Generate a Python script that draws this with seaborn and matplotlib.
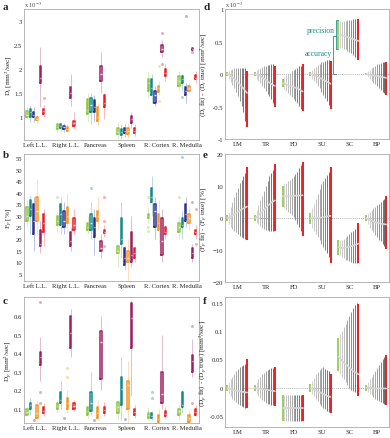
import numpy as np
import pandas as pd
import matplotlib
matplotlib.use("Agg")
import matplotlib.pyplot as plt
import seaborn as sns

organs = ["Left L.L.", "Right L.L.", "Pancreas", "Spleen", "R. Cortex", "R. Medulla"]
methods = ["green", "teal", "navy", "orange", "magenta", "red"]
method_colors = ["#8dc63f", "#15898a", "#2e3192", "#f7941d", "#9e1f63", "#ed1c24"]
fits = ["LM", "TR", "FD", "SU", "SC", "BP"]

# box summaries (whisker low, q1, median, q3, whisker high); rows = methods, cols = organs
dt_box = [
    [(0.97, 1.0, 1.05, 1.12, 1.2), (0.7, 0.76, 0.8, 0.85, 0.9), (0.9, 1.07, 1.15, 1.38, 1.5), (0.55, 0.65, 0.7, 0.78, 0.9), (1.4, 1.55, 1.7, 1.8, 1.95), (1.55, 1.65, 1.75, 1.85, 1.95)],
    [(0.9, 1.0, 1.1, 1.17, 1.25), (0.72, 0.78, 0.82, 0.86, 0.9), (0.85, 1.1, 1.25, 1.4, 1.5), (0.55, 0.62, 0.68, 0.75, 0.85), (1.3, 1.45, 1.6, 1.8, 1.9), (1.55, 1.7, 1.78, 1.85, 1.9)],
    [(0.9, 1.0, 1.05, 1.1, 1.2), (0.7, 0.76, 0.79, 0.82, 0.88), (0.9, 1.1, 1.2, 1.35, 1.45), (0.58, 0.66, 0.72, 0.78, 0.85), (1.22, 1.3, 1.45, 1.55, 1.65), (1.3, 1.45, 1.55, 1.62, 1.7)],
    [(0.85, 0.93, 0.97, 1.0, 1.05), (0.68, 0.72, 0.76, 0.8, 0.85), (0.82, 0.92, 1.0, 1.2, 1.3), (0.56, 0.65, 0.72, 0.78, 0.85), (1.45, 1.52, 1.6, 1.65, 1.75), (1.5, 1.55, 1.6, 1.65, 1.7)],
    [(1.2, 1.7, 1.82, 2.05, 2.45), (1.22, 1.4, 1.5, 1.62, 1.9), (1.5, 1.75, 1.9, 2.05, 2.35), (0.78, 0.88, 0.95, 1.02, 1.1), (2.25, 2.35, 2.42, 2.5, 2.6), (2.38, 2.4, 2.42, 2.44, 2.46)],
    [(1.0, 1.07, 1.12, 1.17, 1.25), (0.75, 0.82, 0.87, 0.92, 1.1), (0.95, 1.2, 1.3, 1.45, 1.5), (0.6, 0.67, 0.72, 0.78, 0.85), (1.75, 1.85, 1.92, 2.0, 2.1), (1.7, 1.78, 1.82, 1.88, 1.95)],
]
dt_out = [(0, "red", 1.4), (4, "orange", 2.05), (4, "orange", 1.33), (4, "magenta", 2.75),
          (4, "magenta", 2.1), (5, "teal", 1.42), (5, "navy", 3.1), (5, "magenta", 2.35)]

fp_box = [
    [(25, 28, 30, 34, 37), (23, 26, 28, 30, 32), (22, 24, 25, 27, 30), (8, 14, 15, 17, 18), (27, 29, 30, 31, 34), (20, 23, 25, 27, 30)],
    [(22, 30, 33, 37, 39), (22, 26, 31, 35, 38), (20, 24, 27, 31, 36), (12, 18, 20, 29, 36), (30, 36, 38, 42, 47), (20, 25, 26, 29, 32)],
    [(15, 22, 28, 35, 38), (22, 25, 28, 32, 36), (13, 21, 25, 29, 33), (7, 9, 12, 16, 17), (20, 25, 32, 35, 38), (25, 28, 31, 35, 38)],
    [(22, 28, 32, 38, 46), (23, 27, 30, 34, 40), (24, 28, 30, 32, 38), (2, 10, 12, 15, 20), (18, 24, 27, 31, 37), (24, 27, 29, 31, 34)],
    [(14, 17, 18, 24, 28), (15, 17, 19, 23, 25), (12, 15, 16, 19, 22), (8, 10, 13, 23, 30), (10, 13, 19, 29, 33), (10, 12, 14, 16, 18)],
    [(17, 23, 27, 31, 33), (22, 24, 26, 29, 33), (21, 22.5, 23, 24, 26), (10, 12, 14, 16, 17), (20, 22, 23, 25, 26), (20, 22, 23, 24, 26)],
]
fp_out = [(1, "green", 38), (2, "teal", 42), (2, "red", 38), (2, "red", 28), (2, "red", 17),
          (4, "green", 38), (4, "green", 25), (4, "green", 23.5), (5, "green", 38),
          (5, "teal", 55.5), (5, "magenta", 36), (5, "red", 33), (5, "red", 18)]

dp_box = [
    [(0.06, 0.07, 0.085, 0.1, 0.11), (0.08, 0.1, 0.115, 0.13, 0.15), (0.05, 0.07, 0.09, 0.11, 0.12), (0.04, 0.08, 0.11, 0.14, 0.15), (0.04, 0.05, 0.065, 0.08, 0.11), (0.04, 0.07, 0.09, 0.1, 0.12)],
    [(0.07, 0.1, 0.12, 0.13, 0.16), (0.1, 0.13, 0.15, 0.19, 0.25), (0.07, 0.09, 0.13, 0.19, 0.3), (0.04, 0.12, 0.21, 0.27, 0.38), (0.04, 0.05, 0.06, 0.08, 0.09), (0.08, 0.11, 0.12, 0.19, 0.2)],
    [None, None, None, None, None, None],
    [(0.04, 0.05, 0.08, 0.12, 0.15), (0.08, 0.1, 0.13, 0.16, 0.2), (0.04, 0.05, 0.08, 0.11, 0.15), (0.02, 0.1, 0.23, 0.25, 0.36), (0.02, 0.03, 0.045, 0.07, 0.1), (0.02, 0.03, 0.05, 0.07, 0.09)],
    [(0.25, 0.34, 0.38, 0.41, 0.49), (0.38, 0.43, 0.51, 0.6, 0.64), (0.2, 0.26, 0.46, 0.52, 0.6), (0.17, 0.43, 0.59, 0.67, 0.69), (0.1, 0.13, 0.18, 0.3, 0.5), (0.27, 0.3, 0.36, 0.39, 0.48)],
    [(0.06, 0.08, 0.09, 0.11, 0.13), (0.09, 0.1, 0.115, 0.13, 0.15), (0.06, 0.08, 0.095, 0.11, 0.14), (0.05, 0.07, 0.085, 0.1, 0.12), (0.05, 0.06, 0.075, 0.09, 0.11), (0.06, 0.07, 0.085, 0.1, 0.12)],
]
dp_out = [(0, "navy", 0.04), (1, "navy", 0.05), (2, "navy", 0.04), (3, "navy", 0.045),
          (4, "navy", 0.02), (5, "navy", 0.02), (0, "magenta", 0.68), (0, "magenta", 0.19),
          (0, "magenta", 0.13), (1, "orange", 0.32), (1, "orange", 0.27), (4, "teal", 0.19),
          (4, "teal", 0.16), (5, "magenta", 0.55), (5, "magenta", 0.13)]

# fit error fans: one row per fit method, 12 noise levels (first green, last red)
dt_hi = [
    [0.03, 0.05, 0.07, 0.08, 0.09, 0.1, 0.1, 0.1, 0.1, 0.1, 0.09, 0.05],
    [0.03, 0.06, 0.08, 0.1, 0.11, 0.12, 0.13, 0.14, 0.14, 0.15, 0.15, 0.13],
    [-0.08, -0.04, -0.02, 0.0, 0.02, 0.04, 0.06, 0.08, 0.1, 0.12, 0.13, 0.15],
    [0.03, 0.06, 0.09, 0.11, 0.14, 0.16, 0.18, 0.19, 0.2, 0.21, 0.21, 0.2],
    [0.83, 0.82, 0.82, 0.82, 0.82, 0.83, 0.83, 0.83, 0.84, 0.84, 0.85, 0.85],
    [0.02, 0.04, 0.07, 0.09, 0.11, 0.13, 0.15, 0.16, 0.17, 0.18, 0.19, 0.19],
]
dt_lo = [
    [-0.03, -0.08, -0.12, -0.17, -0.22, -0.28, -0.34, -0.41, -0.49, -0.58, -0.72, -0.82],
    [-0.03, -0.07, -0.1, -0.14, -0.18, -0.22, -0.26, -0.3, -0.34, -0.39, -0.45, -0.5],
    [-0.2, -0.23, -0.26, -0.29, -0.32, -0.35, -0.38, -0.41, -0.45, -0.49, -0.53, -0.57],
    [-0.03, -0.07, -0.1, -0.14, -0.18, -0.22, -0.27, -0.32, -0.37, -0.42, -0.48, -0.53],
    [0.38, 0.4, 0.4, 0.39, 0.38, 0.36, 0.34, 0.32, 0.3, 0.27, 0.24, 0.22],
    [-0.02, -0.05, -0.08, -0.1, -0.13, -0.16, -0.19, -0.22, -0.25, -0.27, -0.29, -0.32],
]
dt_mid = [
    [0.0, -0.01, -0.03, -0.05, -0.07, -0.1, -0.13, -0.16, -0.19, -0.22, -0.26, -0.29],
    [0.0, -0.01, -0.02, -0.03, -0.05, -0.07, -0.09, -0.11, -0.13, -0.15, -0.17, -0.18],
    [-0.14, -0.15, -0.16, -0.17, -0.18, -0.19, -0.2, -0.21, -0.22, -0.23, -0.25, -0.27],
    [0.0, -0.01, -0.02, -0.03, -0.04, -0.06, -0.07, -0.09, -0.1, -0.12, -0.13, -0.15],
    [0.6, 0.6, 0.6, 0.59, 0.58, 0.57, 0.56, 0.55, 0.54, 0.53, 0.52, 0.51],
    [0.0, -0.01, -0.01, -0.02, -0.02, -0.03, -0.03, -0.04, -0.04, -0.05, -0.05, -0.06],
]

fp_hi = [
    [1, 2, 3.5, 5, 6.5, 8, 9.5, 11, 12, 13, 14, 16],
    [1, 2.5, 4, 5.5, 7, 8.5, 10, 11.5, 13, 14, 15, 17],
    [10, 10.5, 11, 11.5, 12, 12.5, 13, 13.7, 14.5, 15.5, 16.5, 17.5],
    [1.5, 3, 4.5, 6, 7.5, 9, 10.5, 11.5, 12.5, 13.5, 14.5, 16],
    [-7, -7, -6.8, -6.5, -6, -5.5, -5, -4.5, -4, -3.3, -2.5, -1.5],
    [1, 1.5, 2, 2.5, 3, 3.5, 4, 4.5, 5, 5.5, 6, 7],
]
fp_lo = [
    [-1, -2, -2.8, -3.5, -4, -4.5, -5, -5.5, -6, -6.3, -6.6, -7],
    [-1, -1.5, -2, -2.5, -3, -3.3, -3.6, -3.8, -4, -4, -4, -4],
    [3.5, 3, 2.5, 2, 1.5, 1, 0.2, -0.7, -1.7, -2.8, -4, -5.5],
    [-2, -3, -4, -5, -6, -7, -8, -9, -10, -11, -12, -14],
    [-11.5, -11.5, -12, -12.5, -13, -13.2, -13.5, -13.8, -14, -14, -14, -14],
    [-1, -2, -3, -3.8, -4.5, -5.3, -6, -6.7, -7.3, -8, -8.7, -9.8],
]
fp_mid = [
    [0, 0.2, 0.5, 0.8, 1.1, 1.5, 1.9, 2.3, 2.7, 3.0, 3.3, 3.6],
    [0, 0.4, 0.9, 1.4, 2, 2.6, 3.2, 3.8, 4.3, 4.8, 5.2, 5.5],
    [6.8, 6.8, 6.8, 6.8, 6.8, 6.9, 6.9, 7, 7, 7, 7.1, 7.1],
    [0, 0, 0, 0, 0.1, 0.1, 0.2, 0.3, 0.4, 0.5, 0.6, 0.7],
    [-9, -9.2, -9.3, -9.3, -9.2, -9.1, -9, -8.8, -8.6, -8.4, -8.2, -8],
    [0, -0.3, -0.6, -0.9, -1.1, -1.3, -1.5, -1.6, -1.7, -1.8, -1.9, -2],
]

dp_hi = [
    [0.005, 0.01, 0.015, 0.02, 0.025, 0.03, 0.033, 0.036, 0.038, 0.04, 0.042, 0.05],
    [0.005, 0.01, 0.015, 0.02, 0.024, 0.027, 0.03, 0.032, 0.034, 0.035, 0.035, 0.037],
    [-0.012, -0.012, -0.012, -0.012, -0.012, -0.012, -0.012, -0.012, -0.012, -0.012, -0.012, -0.012],
    [0.007, 0.012, 0.018, 0.024, 0.028, 0.032, 0.035, 0.036, 0.034, 0.032, 0.03, 0.025],
    [0.088, 0.095, 0.1, 0.107, 0.113, 0.12, 0.127, 0.133, 0.14, 0.146, 0.15, 0.148],
    [0.005, 0.01, 0.015, 0.02, 0.025, 0.03, 0.035, 0.04, 0.045, 0.05, 0.055, 0.058],
]
dp_lo = [
    [-0.005, -0.01, -0.015, -0.019, -0.022, -0.025, -0.028, -0.03, -0.032, -0.034, -0.035, -0.036],
    [-0.005, -0.01, -0.014, -0.018, -0.021, -0.024, -0.026, -0.028, -0.029, -0.03, -0.03, -0.032],
    [-0.058, -0.058, -0.058, -0.058, -0.058, -0.058, -0.058, -0.058, -0.058, -0.058, -0.058, -0.058],
    [-0.007, -0.011, -0.015, -0.02, -0.024, -0.028, -0.032, -0.035, -0.038, -0.04, -0.042, -0.045],
    [0.03, 0.025, 0.02, 0.015, 0.01, 0.005, 0.0, -0.003, -0.006, -0.008, -0.01, -0.015],
    [-0.005, -0.008, -0.01, -0.013, -0.016, -0.019, -0.021, -0.023, -0.025, -0.027, -0.028, -0.03],
]
dp_mid = [
    [0, -0.001, -0.002, -0.003, -0.004, -0.005, -0.006, -0.006, -0.007, -0.007, -0.008, -0.008],
    [0, -0.001, -0.001, -0.002, -0.002, -0.003, -0.003, -0.004, -0.004, -0.005, -0.005, -0.006],
    [-0.035, -0.035, -0.035, -0.035, -0.035, -0.035, -0.035, -0.035, -0.035, -0.035, -0.035, -0.035],
    [0, -0.002, -0.003, -0.005, -0.006, -0.008, -0.009, -0.011, -0.012, -0.014, -0.015, -0.016],
    [0.055, 0.052, 0.048, 0.045, 0.042, 0.039, 0.036, 0.033, 0.03, 0.028, 0.026, 0.024],
    [0, 0, 0, 0, -0.001, -0.001, -0.001, -0.001, -0.001, -0.001, -0.001, -0.001],
]

sns.set_theme(style="white")
plt.rcParams["font.family"] = ["Liberation Serif", "DejaVu Serif"]
plt.rcParams["mathtext.fontset"] = "stix"

BOX_W = 0.66
SPINE = "#9a9a9a"
TEAL = "#1f8f8f"


def style_axes(ax):
    for s in ax.spines.values():
        s.set_color(SPINE)
        s.set_linewidth(0.5)
    ax.tick_params(axis="both", labelsize=4.8, direction="in", length=2, width=0.4,
                   color=SPINE, pad=1.2)


def box_panel(ax, boxes, outliers, ylim, yticks, ylabel):
    rows = []
    for j, m in enumerate(methods):
        for i, org in enumerate(organs):
            if boxes[j][i] is None:
                continue
            for v in boxes[j][i]:
                rows.append({"organ": org, "method": m, "value": v})
    df = pd.DataFrame(rows)
    sns.boxplot(data=df, x="organ", y="value", hue="method", order=organs,
                hue_order=methods, palette=method_colors, width=BOX_W, gap=0.6,
                whis=np.inf, fill=False, linewidth=1.1, showcaps=False,
                whiskerprops={"linewidth": 0.7, "alpha": 0.3},
                medianprops={"color": "#e2e2e2", "linewidth": 1.0},
                legend=False, ax=ax)
    slot = BOX_W / len(methods)
    for i, m, v in outliers:
        j = methods.index(m)
        x = i - BOX_W / 2 + slot * (j + 0.5)
        ax.plot(x, v, "o", ms=2.2, color=method_colors[j], alpha=0.35, mec="none")
    ax.set_xlim(-0.37, 5.39)
    ax.set_ylim(*ylim)
    ax.set_yticks(yticks)
    ax.set_xlabel("")
    ax.set_ylabel(ylabel, fontsize=5.2)
    ax.yaxis.set_label_coords(-0.058, 0.5)
    style_axes(ax)
    ax.tick_params(axis="x", length=0)


def fan_panel(ax, hi, lo, mid, ylim, yticks, ylabel):
    n = len(hi[0])
    grays = [plt.cm.Greys(v) for v in np.linspace(0.28, 0.66, n - 2)]
    cols = [method_colors[0]] + grays + [method_colors[5]]
    lws = [1.2] + [0.7] * (n - 2) + [1.4]
    ax.axhline(0, color="#9a9a9a", lw=0.5, ls=(0, (1.5, 1.5)), zorder=0)
    for k in range(len(fits)):
        xs = k + np.linspace(-0.4, 0.32, n)
        ax.vlines(xs, lo[k], hi[k], colors=cols, linewidths=lws, zorder=2)
        sns.lineplot(x=xs, y=mid[k], color="#d6d6d6", lw=1.2, ax=ax, zorder=3)
    ax.set_xticks(range(len(fits)))
    ax.set_xticklabels(fits)
    ax.set_xlim(-0.47, 5.43)
    ax.set_ylim(*ylim)
    ax.set_yticks(yticks)
    ax.set_ylabel(ylabel, fontsize=5.2)
    ax.yaxis.set_label_coords(-0.1, 0.5)
    style_axes(ax)
    ax.tick_params(axis="x", length=0)


fig = plt.figure(figsize=(3.9, 4.39), dpi=100)
ax_a = fig.add_axes([0.0615, 0.679, 0.449, 0.299])
ax_b = fig.add_axes([0.0615, 0.358, 0.449, 0.289])
ax_c = fig.add_axes([0.0615, 0.034, 0.449, 0.287])
ax_d = fig.add_axes([0.577, 0.681, 0.421, 0.296])
ax_e = fig.add_axes([0.577, 0.355, 0.421, 0.292])
ax_f = fig.add_axes([0.577, 0.025, 0.421, 0.296])

box_panel(ax_a, dt_box, dt_out, (0.526, 3.25), [1, 1.5, 2, 2.5, 3],
          r"D$_t$ [mm$^2$/sec]")
ax_a.set_yticklabels(["1", "1.5", "2", "2.5", "3"])
box_panel(ax_b, fp_box, fp_out, (2, 56.7), list(range(5, 56, 5)), r"F$_p$ [%]")
box_panel(ax_c, dp_box, dp_out, (0.024, 0.704), [0.1, 0.2, 0.3, 0.4, 0.5, 0.6],
          r"D$_p$ [mm$^2$/sec]")

fan_panel(ax_d, dt_hi, dt_lo, dt_mid, (-1, 1), [-1, -0.5, 0, 0.5, 1],
          r"(D$_t$ fit) - (D$_t$ true) [mm$^2$/sec]")
ax_d.set_yticklabels(["-1", "-0.5", "0", "0.5", "1"])
fan_panel(ax_e, fp_hi, fp_lo, fp_mid, (-20, 20), [-20, -10, 0, 10, 20],
          r"(F$_p$ fit) - (F$_p$ true) [%]")
fan_panel(ax_f, dp_hi, dp_lo, dp_mid, (-0.069, 0.16), [-0.05, 0, 0.05, 0.1, 0.15],
          r"(D$_p$ fit) - (D$_p$ true) [mm$^2$/sec]")
ax_f.set_yticklabels(["-0.05", "0", "0.05", "0.1", "0.15"])

for ax in (ax_a, ax_d):
    ax.text(0.0, 1.0, r"x 10$^{-3}$", transform=ax.transAxes, fontsize=4.5,
            ha="left", va="bottom", color="#444444")

# precision / accuracy annotation on SC
ax_d.plot([3.58, 3.53, 3.53, 3.58], [0.38, 0.38, 0.83, 0.83], color=TEAL, lw=0.6)
ax_d.plot([3.52, 3.42, 3.42, 3.52], [0.0, 0.0, 0.59, 0.59], color=TEAL, lw=0.6)
ax_d.text(3.46, 0.68, "precision", color=TEAL, fontsize=5.5, ha="right", va="center")
ax_d.text(3.37, 0.33, "accuracy", color=TEAL, fontsize=5.5, ha="right", va="center")

for letter, x, y in [("a", 3, 8), ("b", 3, 156), ("c", 3, 302),
                     ("d", 203, 8), ("e", 203, 156), ("f", 203, 302)]:
    fig.text(x / 390, 1 - y / 439, letter, fontsize=8, fontweight="bold",
             ha="left", va="center")

fig.savefig("out.png", dpi=100)
